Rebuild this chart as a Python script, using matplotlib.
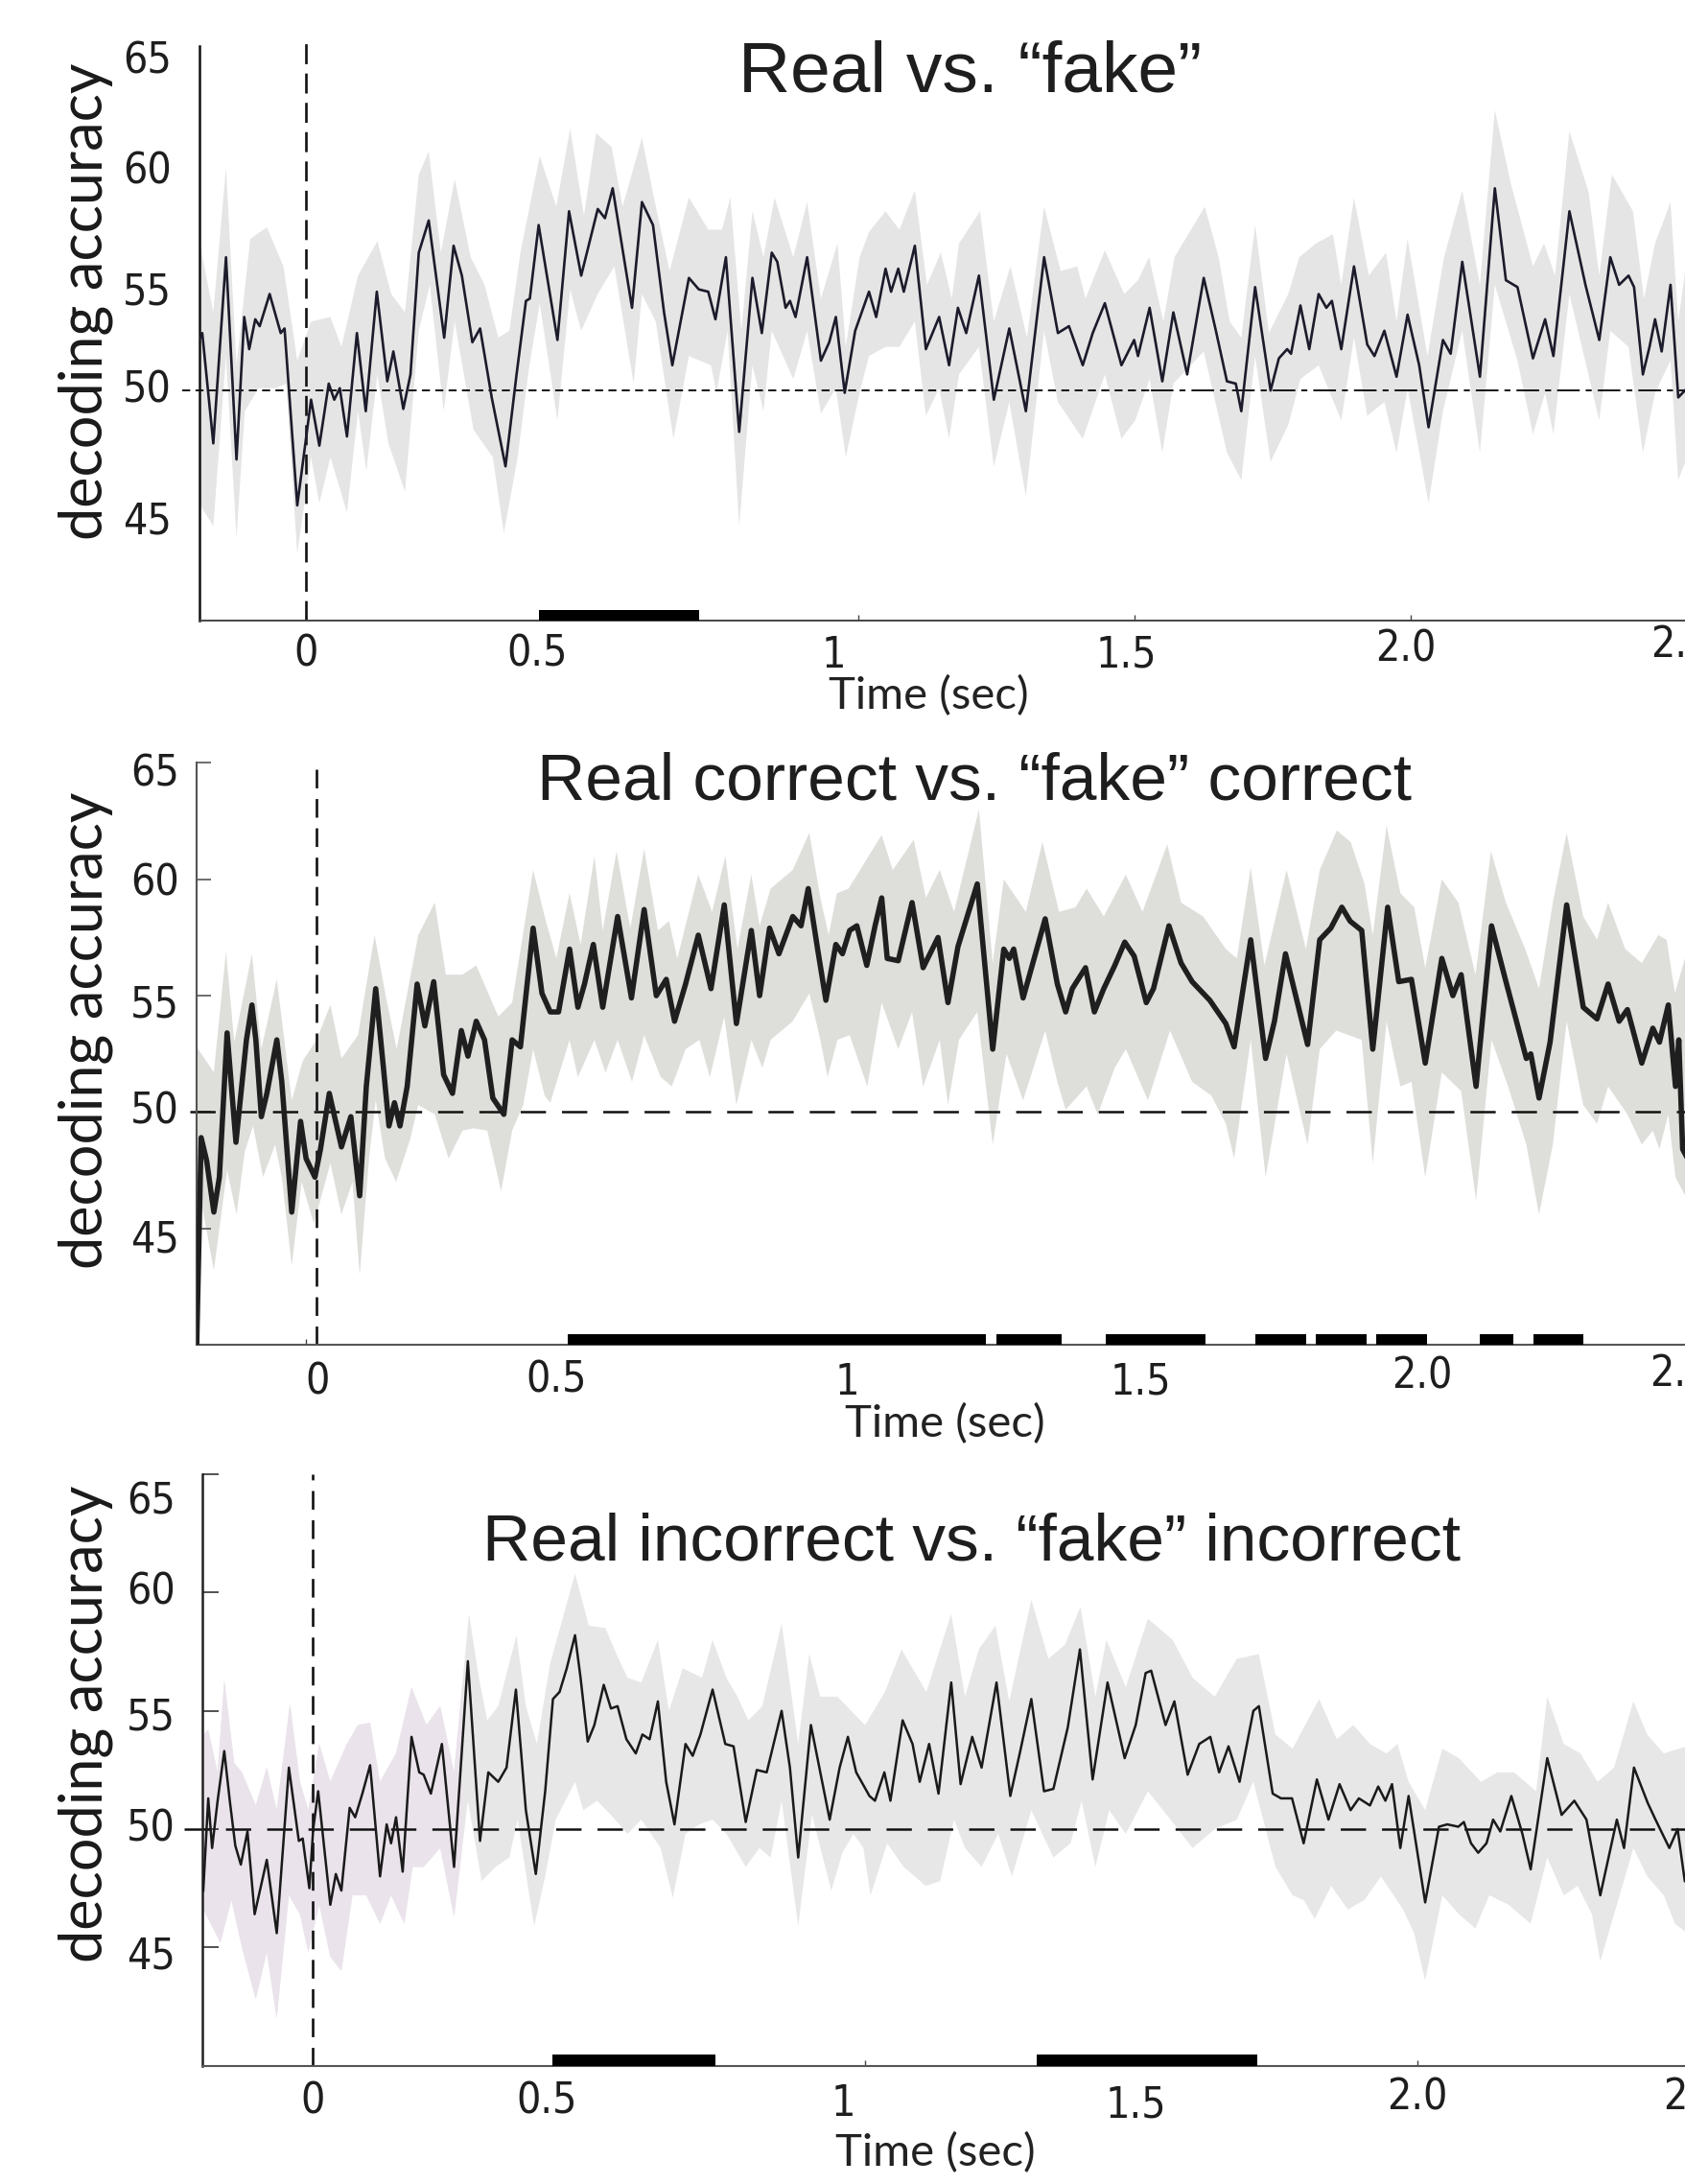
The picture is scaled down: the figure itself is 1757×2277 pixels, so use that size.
import numpy as np
import matplotlib
matplotlib.use("Agg")
import matplotlib.pyplot as plt
from matplotlib.patches import Rectangle

plt.rcParams['lines.scale_dashes'] = False

### data (time in sec, decoding accuracy in %)
# panel 1 : Real vs. "fake"
p1_curve = [(-0.193,52.2),(-0.187,52.5),(-0.167,47.7),(-0.144,55.8),(-0.125,47.0),(-0.111,53.2),(-0.102,51.8),(-0.091,53.1),
            (-0.083,52.8),(-0.065,54.2),(-0.045,52.5),(-0.038,52.7),(-0.015,45.0),(0.010,49.6),(0.025,47.6),(0.042,50.3),
            (0.052,49.6),(0.062,50.1),(0.075,48.0),(0.093,52.5),(0.109,49.1),(0.129,54.3),(0.148,50.4),(0.159,51.7),
            (0.177,49.2),(0.190,50.7),(0.205,56.0),(0.223,57.4),(0.251,52.3),(0.268,56.3),(0.283,55.0),(0.302,52.1),
            (0.316,52.7),(0.337,49.7),(0.362,46.7),(0.382,50.7),(0.399,53.9),(0.406,54.0),(0.422,57.2),(0.456,52.2),
            (0.477,57.8),(0.499,55.0),(0.529,57.9),(0.542,57.5),(0.556,58.8),(0.591,53.6),(0.609,58.2),(0.629,57.2),
            (0.649,53.4),(0.664,51.1),(0.694,54.9),(0.712,54.4),(0.729,54.3),(0.742,53.1),(0.761,55.8),(0.785,48.2),
            (0.809,54.9),(0.826,52.5),(0.844,56.0),(0.854,55.6),(0.869,53.6),(0.877,53.9),(0.887,53.2),(0.908,55.8),
            (0.933,51.3),(0.948,52.1),(0.960,53.2),(0.976,49.9),(0.995,52.6),(1.020,54.3),(1.033,53.2),(1.050,55.3),
            (1.060,54.3),(1.073,55.3),(1.083,54.3),(1.103,56.3),(1.123,51.8),(1.147,53.2),(1.165,51.1),(1.181,53.6),
            (1.196,52.5),(1.219,55.0),(1.246,49.6),(1.274,52.7),(1.304,49.1),(1.337,55.8),(1.362,52.5),(1.382,52.8),
            (1.407,51.1),(1.425,52.5),(1.447,53.8),(1.477,51.1),(1.500,52.2),(1.507,51.5),(1.528,53.6),(1.551,50.4),
            (1.571,53.4),(1.596,50.7),(1.626,54.9),(1.648,52.6),(1.668,50.4),(1.684,50.3),(1.694,49.1),(1.719,54.5),
            (1.747,50.0),(1.762,51.4),(1.777,51.8),(1.784,51.6),(1.801,53.7),(1.817,51.8),(1.834,54.2),(1.848,53.6),
            (1.858,53.9),(1.875,51.8),(1.898,55.4),(1.922,52.0),(1.935,51.5),(1.953,52.6),(1.975,50.6),(1.995,53.3),
            (2.016,51.1),(2.033,48.4),(2.059,52.2),(2.073,51.6),(2.094,55.6),(2.126,50.6),(2.153,58.8),(2.173,54.8),
            (2.194,54.5),(2.222,51.4),(2.244,53.1),(2.259,51.5),(2.288,57.8),(2.317,54.6),(2.342,52.2),(2.362,55.8),
            (2.378,54.6),(2.395,55.0),(2.405,54.5),(2.421,50.7),(2.433,51.9),(2.443,53.1),(2.455,51.7),(2.471,54.6),
            (2.485,49.7),(2.501,50.1)]
p1_hi = [(-0.193,56.6),(-0.167,53.4),(-0.144,59.7),(-0.125,51.1),(-0.100,56.6),(-0.070,57.1),(-0.040,55.4),(-0.015,51.3),
         (0.010,53.0),(0.045,53.2),(0.065,51.9),(0.095,55.0),(0.130,56.5),(0.155,54.2),(0.180,53.4),(0.205,59.4),
         (0.223,60.4),(0.245,56.0),(0.270,59.2),(0.299,55.8),(0.324,54.6),(0.349,52.3),(0.369,52.6),(0.389,56.0),
         (0.424,60.2),(0.454,58.0),(0.479,61.4),(0.504,57.6),(0.526,61.2),(0.554,60.6),(0.574,58.0),(0.609,61.0),
         (0.629,58.6),(0.659,55.2),(0.694,58.4),(0.729,57.0),(0.754,57.0),(0.769,58.4),(0.789,52.6),(0.809,57.8),
         (0.829,55.8),(0.849,58.4),(0.883,55.8),(0.908,58.2),(0.933,54.0),(0.963,56.4),(0.978,51.9),(1.003,55.8),
         (1.020,56.9),(1.050,57.8),(1.075,57.0),(1.103,58.7),(1.125,54.6),(1.150,56.0),(1.170,54.0),(1.183,56.4),
         (1.221,57.8),(1.246,53.0),(1.276,55.4),(1.306,52.3),(1.337,58.0),(1.367,55.2),(1.397,55.4),(1.412,54.0),
         (1.447,56.1),(1.482,54.2),(1.507,54.8),(1.527,55.8),(1.553,53.0),(1.573,55.8),(1.628,58.0),(1.653,55.8),
         (1.673,53.0),(1.694,52.3),(1.719,57.2),(1.744,52.5),(1.779,54.2),(1.799,55.8),(1.829,56.4),(1.860,56.8),
         (1.875,54.6),(1.898,58.4),(1.925,55.0),(1.956,56.0),(1.975,53.0),(1.995,56.6),(2.031,51.5),(2.061,55.8),
         (2.094,58.7),(2.126,54.6),(2.153,62.2),(2.182,59.0),(2.222,55.4),(2.242,56.4),(2.262,55.0),(2.288,61.3),
         (2.323,58.6),(2.342,55.0),(2.365,59.4),(2.403,57.8),(2.423,54.0),(2.443,56.4),(2.471,58.2),(2.485,53.0),
         (2.501,55.8)]
p1_lo = [(-0.193,45.1),(-0.167,44.1),(-0.144,51.5),(-0.125,43.6),(-0.110,49.1),(-0.085,50.1),(-0.055,50.1),(-0.035,50.3),
         (-0.015,42.9),(0.010,47.1),(0.025,45.1),(0.045,47.1),(0.075,44.7),(0.095,49.1),(0.110,46.5),(0.130,50.7),
         (0.150,47.7),(0.180,45.6),(0.205,52.6),(0.225,54.6),(0.250,49.1),(0.270,53.0),(0.304,48.3),(0.339,47.1),
         (0.359,43.8),(0.384,47.1),(0.404,50.9),(0.424,53.8),(0.456,48.7),(0.479,54.4),(0.499,52.6),(0.529,54.2),
         (0.559,55.4),(0.594,50.3),(0.609,54.2),(0.634,53.0),(0.666,47.9),(0.694,51.5),(0.734,51.1),(0.744,49.9),
         (0.764,52.6),(0.785,44.1),(0.809,51.1),(0.829,49.1),(0.844,52.6),(0.883,50.5),(0.908,52.6),(0.933,49.0),
         (0.960,50.1),(0.978,47.1),(1.003,49.9),(1.020,51.5),(1.050,51.9),(1.075,51.9),(1.103,53.0),(1.123,48.9),
         (1.147,50.1),(1.165,47.9),(1.183,50.7),(1.219,51.9),(1.246,46.7),(1.274,49.5),(1.304,45.4),(1.337,52.6),
         (1.362,49.5),(1.407,47.9),(1.447,50.7),(1.477,47.9),(1.502,48.7),(1.528,50.5),(1.551,47.3),(1.571,50.3),
         (1.626,51.7),(1.668,47.3),(1.694,46.1),(1.719,51.5),(1.747,46.9),(1.779,48.5),(1.801,50.5),(1.834,51.1),
         (1.875,48.7),(1.898,52.3),(1.922,48.9),(1.953,49.5),(1.975,47.3),(1.995,50.1),(2.033,45.1),(2.059,49.1),
         (2.094,52.6),(2.126,47.3),(2.153,54.6),(2.194,51.3),(2.222,48.1),(2.244,49.9),(2.259,48.1),(2.288,54.2),
         (2.342,48.7),(2.362,52.6),(2.395,51.9),(2.421,47.3),(2.443,49.9),(2.471,51.3),(2.485,46.1),(2.501,47.1)]
p1_sig = [(0.423, 0.713)]

# panel 2 : Real correct vs. "fake" correct
p2_curve = [(-0.197,40.0),(-0.189,48.9),(-0.179,47.9),(-0.166,45.7),(-0.156,47.2),(-0.142,53.4),(-0.126,48.7),(-0.111,52.2),
            (-0.107,53.1),(-0.097,54.6),(-0.090,53.1),(-0.080,49.8),(-0.070,50.8),(-0.052,53.1),(-0.043,51.3),(-0.025,45.7),
            (-0.009,49.6),(0.001,48.0),(0.017,47.2),(0.027,48.4),(0.043,50.8),(0.065,48.5),(0.082,49.8),(0.098,46.4),
            (0.110,51.1),(0.127,55.3),(0.141,51.9),(0.151,49.4),(0.161,50.4),(0.171,49.4),(0.184,51.1),(0.202,55.5),
            (0.216,53.7),(0.232,55.6),(0.250,51.6),(0.266,50.8),(0.282,53.5),(0.294,52.4),(0.309,53.9),(0.324,53.1),
            (0.339,50.6),(0.359,49.9),(0.374,53.1),(0.389,52.8),(0.412,57.9),(0.428,55.1),(0.443,54.3),(0.458,54.3),
            (0.478,57.0),(0.493,54.5),(0.505,55.5),(0.521,57.2),(0.538,54.5),(0.565,58.4),(0.590,54.9),(0.613,58.7),
            (0.635,55.0),(0.653,55.7),(0.668,53.9),(0.688,55.5),(0.711,57.6),(0.734,55.3),(0.758,58.9),(0.780,53.8),
            (0.807,57.8),(0.822,55.0),(0.840,57.9),(0.857,56.8),(0.882,58.4),(0.897,58.0),(0.910,59.6),(0.927,57.0),
            (0.942,54.8),(0.960,57.2),(0.972,56.8),(0.985,57.8),(0.998,58.0),(1.016,56.3),(1.031,58.0),(1.043,59.2),
            (1.053,56.6),(1.073,56.5),(1.098,59.0),(1.118,56.2),(1.145,57.5),(1.163,54.7),(1.181,57.1),(1.216,59.8),
            (1.244,52.7),(1.264,57.0),(1.274,56.6),(1.282,57.0),(1.299,54.9),(1.339,58.3),(1.361,55.5),(1.376,54.3),
            (1.388,55.3),(1.412,56.2),(1.428,54.3),(1.445,55.3),(1.465,56.3),(1.483,57.3),(1.500,56.7),(1.522,54.7),
            (1.535,55.3),(1.563,58.0),(1.585,56.4),(1.605,55.6),(1.637,54.8),(1.666,53.8),(1.681,52.8),(1.711,57.4),
            (1.738,52.3),(1.754,53.9),(1.774,56.8),(1.814,52.9),(1.836,57.4),(1.856,57.9),(1.876,58.8),(1.891,58.2),
            (1.912,57.8),(1.932,52.7),(1.959,58.8),(1.979,55.6),(2.002,55.7),(2.027,52.1),(2.057,56.6),(2.077,55.0),
            (2.092,55.9),(2.119,51.1),(2.147,58.0),(2.172,55.7),(2.210,52.3),(2.218,52.5),(2.233,50.6),(2.253,53.0),
            (2.283,58.9),(2.313,54.5),(2.338,54.0),(2.358,55.5),(2.378,53.9),(2.393,54.4),(2.419,52.1),(2.439,53.6),
            (2.451,53.0),(2.467,54.6),(2.480,51.1),(2.486,53.1),(2.493,48.4),(2.502,48.0)]
p2_hi = [(-0.197,52.8),(-0.166,51.7),(-0.144,56.9),(-0.129,53.0),(-0.097,56.8),(-0.080,52.7),(-0.052,55.7),(-0.025,50.5),
         (-0.005,52.2),(0.020,53.1),(0.045,54.6),(0.065,52.3),(0.095,53.3),(0.125,57.6),(0.145,55.0),(0.165,52.7),
         (0.204,57.6),(0.234,59.0),(0.254,55.9),(0.284,55.9),(0.309,56.3),(0.349,54.1),(0.374,54.7),(0.412,60.4),
         (0.434,58.3),(0.454,56.6),(0.478,59.4),(0.498,57.2),(0.523,61.0),(0.538,57.8),(0.563,61.2),(0.588,57.9),
         (0.613,61.3),(0.638,57.8),(0.658,58.2),(0.673,56.6),(0.711,60.2),(0.736,58.6),(0.760,61.0),(0.782,57.0),
         (0.807,60.2),(0.822,58.0),(0.842,59.6),(0.882,60.4),(0.912,62.0),(0.932,59.2),(0.947,57.6),(0.962,59.4),
         (0.983,59.6),(1.043,61.9),(1.063,60.4),(1.101,61.7),(1.123,59.2),(1.148,60.4),(1.174,58.6),(1.219,63.0),
         (1.244,56.4),(1.264,60.0),(1.304,58.6),(1.334,61.6),(1.364,58.6),(1.394,58.8),(1.414,59.6),(1.445,58.4),
         (1.485,60.2),(1.515,58.6),(1.560,61.5),(1.585,59.0),(1.625,58.4),(1.666,57.0),(1.686,56.6),(1.711,60.5),
         (1.736,56.3),(1.776,60.4),(1.811,57.0),(1.836,60.4),(1.867,62.1),(1.892,61.6),(1.917,59.8),(1.932,57.6),
         (1.957,62.3),(1.982,59.4),(2.007,58.8),(2.027,56.2),(2.057,60.0),(2.087,59.0),(2.118,55.9),(2.146,61.2),
         (2.173,59.0),(2.208,57.0),(2.233,55.3),(2.258,59.0),(2.283,62.0),(2.313,58.4),(2.338,57.4),(2.358,59.0),
         (2.389,57.0),(2.419,56.4),(2.449,57.6),(2.464,57.4),(2.479,55.1),(2.502,57.0)]
p2_lo = [(-0.197,47.2),(-0.166,43.2),(-0.142,47.5),(-0.125,45.6),(-0.110,48.3),(-0.095,49.4),(-0.077,47.2),(-0.055,48.6),
         (-0.043,47.2),(-0.025,43.4),(-0.007,47.0),(0.015,45.2),(0.045,47.8),(0.065,45.6),(0.085,47.0),(0.098,43.0),
         (0.115,48.0),(0.127,50.5),(0.144,48.0),(0.164,47.0),(0.189,48.8),(0.204,50.3),(0.234,49.9),(0.259,48.0),
         (0.284,49.2),(0.304,49.3),(0.329,49.2),(0.354,46.6),(0.374,49.2),(0.394,50.3),(0.412,52.7),(0.433,50.7),
         (0.443,50.4),(0.478,53.1),(0.493,51.5),(0.523,53.1),(0.543,51.7),(0.565,53.1),(0.591,51.3),(0.613,53.3),
         (0.643,51.5),(0.663,51.1),(0.688,52.7),(0.713,53.1),(0.732,51.5),(0.758,54.1),(0.780,50.3),(0.807,53.1),
         (0.827,51.9),(0.842,53.1),(0.882,53.9),(0.912,55.1),(0.932,53.1),(0.945,51.5),(0.963,53.1),(0.985,53.3),
         (1.017,51.1),(1.043,54.7),(1.073,52.7),(1.098,54.3),(1.118,51.1),(1.148,53.1),(1.163,50.3),(1.183,53.1),
         (1.216,54.3),(1.244,48.6),(1.269,52.5),(1.299,50.5),(1.339,53.5),(1.361,51.3),(1.376,50.1),(1.414,51.1),
         (1.434,49.9),(1.465,51.9),(1.485,52.7),(1.525,50.5),(1.565,53.5),(1.605,51.3),(1.640,50.7),(1.666,49.5),
         (1.681,48.0),(1.711,53.1),(1.738,47.2),(1.776,52.5),(1.814,48.6),(1.836,52.7),(1.866,53.5),(1.912,53.1),
         (1.932,47.8),(1.957,53.9),(1.982,51.1),(2.002,51.3),(2.027,47.2),(2.057,51.7),(2.092,50.9),(2.119,46.2),
         (2.147,53.1),(2.177,51.1),(2.210,48.6),(2.233,45.6),(2.258,48.6),(2.283,53.9),(2.313,50.3),(2.338,49.5),
         (2.358,51.1),(2.393,49.9),(2.419,48.6),(2.439,49.2),(2.451,48.4),(2.467,49.9),(2.480,47.2),(2.502,46.2)]
p2_sig = [(0.474, 1.232), (1.250, 1.368), (1.449, 1.630), (1.720, 1.812),
          (1.829, 1.920), (1.939, 2.031), (2.126, 2.187), (2.223, 2.314)]

# panel 3 : Real incorrect vs. "fake" incorrect
p3_curve = [(-0.198,47.4),(-0.189,51.3),(-0.182,49.2),(-0.172,51.2),(-0.160,53.3),(-0.150,51.2),(-0.140,49.3),(-0.130,48.5),
            (-0.118,49.9),(-0.105,46.4),(-0.083,48.7),(-0.065,45.6),(-0.043,52.6),(-0.025,49.5),(-0.018,49.6),(-0.006,47.5),
            (0.001,50.0),(0.010,51.6),(0.022,49.0),(0.032,46.8),(0.042,48.1),(0.052,47.4),(0.067,50.9),(0.077,50.5),
            (0.090,51.5),(0.104,52.7),(0.122,48.0),(0.134,50.2),(0.142,49.4),(0.151,50.5),(0.163,48.2),(0.179,53.9),
            (0.193,52.4),(0.201,52.3),(0.214,51.5),(0.234,53.6),(0.256,48.4),(0.281,57.1),(0.303,49.5),(0.318,52.4),
            (0.336,52.0),(0.351,52.6),(0.368,55.9),(0.386,50.8),(0.404,48.1),(0.421,51.6),(0.435,55.5),(0.447,55.8),
            (0.460,56.8),(0.475,58.2),(0.485,56.4),(0.498,53.7),(0.510,54.4),(0.527,56.1),(0.540,55.1),(0.552,55.2),
            (0.568,53.8),(0.585,53.2),(0.597,54.0),(0.610,53.8),(0.625,55.4),(0.640,52.0),(0.655,50.2),(0.675,53.6),
            (0.688,53.1),(0.702,54.0),(0.724,55.9),(0.747,53.6),(0.762,53.5),(0.784,50.3),(0.804,52.5),(0.822,52.4),
            (0.849,55.0),(0.864,52.6),(0.879,48.8),(0.902,54.4),(0.919,52.4),(0.936,50.4),(0.954,52.6),(0.969,53.9),
            (0.984,52.4),(1.008,51.4),(1.018,51.2),(1.035,52.4),(1.046,51.2),(1.068,54.6),(1.086,53.6),(1.099,52.0),
            (1.116,53.6),(1.133,51.5),(1.156,56.2),(1.173,51.9),(1.194,53.9),(1.211,52.6),(1.238,56.2),(1.263,51.4),
            (1.281,53.3),(1.301,55.5),(1.324,51.6),(1.341,51.7),(1.367,54.3),(1.389,57.6),(1.412,52.1),(1.439,56.2),
            (1.470,53.0),(1.490,54.4),(1.508,56.6),(1.518,56.7),(1.544,54.4),(1.560,55.4),(1.584,52.3),(1.605,53.6),
            (1.625,53.9),(1.641,52.4),(1.658,53.5),(1.678,52.0),(1.703,55.0),(1.713,55.2),(1.738,51.5),(1.753,51.3),
            (1.773,51.3),(1.794,49.4),(1.818,52.1),(1.839,50.4),(1.859,51.9),(1.879,50.8),(1.894,51.3),(1.914,51.0),
            (1.929,51.8),(1.942,51.2),(1.954,51.9),(1.969,49.2),(1.984,51.4),(2.014,46.9),(2.039,50.1),(2.054,50.2),
            (2.074,50.1),(2.084,50.3),(2.097,49.4),(2.110,49.0),(2.125,49.4),(2.137,50.4),(2.150,49.9),(2.170,51.4),
            (2.190,49.8),(2.205,48.3),(2.235,53.0),(2.261,50.6),(2.284,51.2),(2.306,50.4),(2.331,47.2),(2.361,50.4),
            (2.374,49.2),(2.392,52.6),(2.417,51.1),(2.431,50.4),(2.456,49.2),(2.471,50.0),(2.484,47.8),(2.500,47.5)]
p3_hi = [(-0.198,54.0),(-0.189,54.2),(-0.172,52.4),(-0.160,56.3),(-0.142,52.8),(-0.128,52.4),(-0.103,51.0),(-0.083,52.6),
         (-0.065,50.8),(-0.041,55.3),(-0.023,52.0),(-0.008,50.8),(0.012,53.6),(0.032,52.0),(0.062,53.6),(0.082,54.4),
         (0.104,54.5),(0.122,52.0),(0.151,53.2),(0.179,56.0),(0.206,54.4),(0.231,55.2),(0.256,52.4),(0.283,59.1),
         (0.301,56.4),(0.316,54.6),(0.336,55.2),(0.369,58.2),(0.386,55.2),(0.406,53.6),(0.430,57.0),(0.475,60.8),
         (0.500,58.6),(0.530,58.5),(0.550,57.4),(0.570,56.4),(0.595,56.2),(0.625,58.0),(0.645,55.0),(0.670,56.8),
         (0.705,56.4),(0.724,58.0),(0.749,56.4),(0.769,55.6),(0.789,54.6),(0.814,55.2),(0.849,58.7),(0.879,53.6),
         (0.899,57.4),(0.919,55.6),(0.950,55.6),(1.000,54.4),(1.036,55.8),(1.066,57.6),(1.111,55.8),(1.156,59.1),
         (1.181,55.6),(1.206,57.6),(1.236,58.6),(1.261,55.4),(1.301,59.7),(1.332,57.2),(1.362,57.8),(1.390,59.4),
         (1.417,55.6),(1.437,58.0),(1.472,56.0),(1.512,58.9),(1.557,58.0),(1.593,56.4),(1.633,55.6),(1.673,57.2),
         (1.713,57.4),(1.743,54.0),(1.774,53.4),(1.822,55.5),(1.854,53.8),(1.884,54.4),(1.914,53.6),(1.944,53.2),
         (1.964,53.6),(1.984,52.0),(2.014,50.8),(2.045,53.4),(2.075,53.0),(2.115,52.0),(2.145,52.4),(2.175,52.4),
         (2.195,52.0),(2.215,51.6),(2.235,55.6),(2.265,53.6),(2.295,53.2),(2.326,52.0),(2.356,52.6),(2.391,55.4),
         (2.416,54.0),(2.446,53.2),(2.500,53.6)]
p3_lo = [(-0.198,46.6),(-0.167,45.2),(-0.147,47.0),(-0.128,45.0),(-0.103,42.8),(-0.083,44.8),(-0.065,42.0),(-0.043,47.2),
         (-0.023,46.4),(-0.008,44.8),(0.012,46.8),(0.032,44.6),(0.052,44.0),(0.072,47.2),(0.097,47.2),(0.122,46.0),
         (0.142,47.2),(0.166,46.0),(0.181,48.4),(0.201,48.4),(0.231,49.2),(0.256,46.3),(0.281,51.2),(0.306,47.8),
         (0.331,48.4),(0.356,48.8),(0.371,50.4),(0.401,45.9),(0.421,48.0),(0.440,50.4),(0.475,52.0),(0.490,50.8),
         (0.515,51.2),(0.540,50.6),(0.570,49.8),(0.595,50.4),(0.630,49.2),(0.652,47.1),(0.675,49.8),(0.700,50.2),
         (0.724,50.4),(0.749,49.8),(0.784,48.4),(0.809,49.2),(0.829,48.8),(0.849,51.2),(0.879,45.9),(0.904,50.6),
         (0.939,47.4),(0.959,49.0),(0.979,49.8),(0.997,49.2),(1.010,47.2),(1.040,49.4),(1.070,48.4),(1.110,47.6),
         (1.136,47.8),(1.161,50.4),(1.181,49.2),(1.211,48.4),(1.241,49.8),(1.266,48.0),(1.301,50.8),(1.341,48.8),
         (1.372,49.4),(1.392,51.2),(1.417,48.4),(1.442,50.8),(1.472,49.8),(1.512,51.6),(1.553,50.4),(1.593,49.2),
         (1.633,50.0),(1.673,50.4),(1.703,52.0),(1.743,48.4),(1.774,47.2),(1.794,47.0),(1.814,46.2),(1.844,47.6),
         (1.874,46.6),(1.904,47.0),(1.934,48.0),(1.974,46.6),(1.994,45.6),(2.014,43.6),(2.045,47.2),(2.075,46.4),
         (2.105,45.8),(2.130,47.2),(2.165,46.8),(2.205,46.0),(2.235,48.8),(2.265,47.2),(2.290,47.6),(2.316,46.4),
         (2.331,44.4),(2.361,46.8),(2.391,49.2),(2.416,48.0),(2.446,47.2),(2.466,46.0),(2.500,45.4)]
p3_sig = [(0.434, 0.729), (1.311, 1.710)]

titles = ['Real vs. \u201cfake\u201d',
          'Real correct vs. \u201cfake\u201d correct',
          'Real incorrect vs. \u201cfake\u201d incorrect']
xtick_text = ['0', '0.5', '1', '1.5', '2.0', '2.5']
ytick_vals = [65, 60, 55, 50, 45]

### layout (pixels of the 1757x2277 picture)
W, H = 1757, 2277
PX_S = 576.0

num_font = dict(family=['DejaVu Sans'], fontstretch='condensed', fontsize=32, color='#1e1e1e')
lab_font = ['Lato', 'DejaVu Sans']
ttl_font = ['Liberation Sans', 'DejaVu Sans']

fig = plt.figure(figsize=(W / 100, H / 100), dpi=100)


def make_axes(left, top, bottom, t0, ylab_dx, ylab_drop):
    tmin = (left - t0) / PX_S
    tmax = 2.56
    width = (tmax - tmin) * PX_S
    ax = fig.add_axes([left / W, (H - bottom) / H, width / W, (bottom - top) / H])
    ax.set_xlim(tmin, tmax)
    ax.set_ylim(40, 65)
    ax.spines['top'].set_visible(False)
    ax.spines['right'].set_visible(False)
    ax.set_xticks([0, 0.5, 1, 1.5, 2, 2.5])
    ax.tick_params(axis='x', direction='in', length=4, width=1, color='#444', labelbottom=False)
    ax.set_yticks([40] + ytick_vals)
    ax.tick_params(axis='y', labelleft=False)
    # y labels are placed one by one, as in the original they sit a little off the ticks
    for v, drop in zip(ytick_vals, ylab_drop):
        ax.annotate(str(v), xy=(0, v), xycoords=('axes fraction', 'data'),
                    xytext=(ylab_dx, -drop), textcoords='offset pixels',
                    ha='center', va='center', annotation_clip=False, **num_font)
    return ax


def band(ax, hi, lo, color, clip=None):
    hi = np.array(hi)
    lo = np.array(lo)
    xs = np.r_[hi[:, 0], lo[::-1, 0]]
    ys = np.r_[hi[:, 1], lo[::-1, 1]]
    patch = ax.fill(xs, ys, color=color, lw=0, zorder=1)[0]
    if clip is not None:
        patch.set_clip_path(clip)
    return patch


def decorate(ax, title, title_xy, title_size, time_xy, ylab_xy, xt_pos, xt_drop, sig):
    for a, b in sig:
        ax.broken_barh([(a, b - a)], (40, 0.45), facecolors='black', zorder=4)
    for txt, pos, drop in zip(xtick_text, xt_pos, xt_drop):
        ax.annotate(txt, xy=(pos, 0), xycoords=('data', 'axes fraction'),
                    xytext=(0, -drop), textcoords='offset pixels',
                    ha='center', va='center', annotation_clip=False, **num_font)
    fig.text(title_xy[0] / W, 1 - title_xy[1] / H, title, ha='center', va='baseline',
             family=ttl_font, fontsize=title_size, color='#1e1e1e')
    fig.text(time_xy[0] / W, 1 - time_xy[1] / H, 'Time (sec)', ha='center', va='center',
             family=lab_font, fontsize=34, color='#222222')
    fig.text(ylab_xy[0] / W, 1 - ylab_xy[1] / H, 'decoding accuracy', ha='center', va='center',
             rotation=90, family=lab_font, fontsize=44, color='#1a1a1a')


# ---------------- panel 1
ax1 = make_axes(207.8, 47.8, 646.7, 318.6, -54, [16, 11, 18, 0, 17])
ax1.tick_params(axis='y', length=0)
ax1.spines['left'].set_linewidth(1.8)
ax1.spines['left'].set_color('#111111')
ax1.spines['bottom'].set_linewidth(1.4)
ax1.spines['bottom'].set_color('#444444')
band(ax1, p1_hi, p1_lo, '#e5e5e5')
c = np.array(p1_curve)
ax1.plot(c[:, 0], c[:, 1], color='#1b1b2b', lw=1.9, zorder=3, solid_joinstyle='round')
t_lo = ax1.get_xlim()[0]
ax1.plot([t_lo - 0.031, 1.53], [50, 50], color='#111111', lw=1.4, dashes=(6, 4), zorder=2, clip_on=False)
ax1.plot([1.53, 2.56], [50, 50], color='#111111', lw=1.4, dashes=(17, 4.5, 4.5, 4.5), zorder=2)
ax1.plot([0, 0], [40, 65.2], color='#111111', lw=1.9, dashes=(15, 7), zorder=2, clip_on=False)
decorate(ax1, titles[0], (1012, 95.7), 54, (968, 726), (89, 314),
         [0.0, 0.419, 0.956, 1.485, 1.992, 2.49], [35, 35, 37, 36, 30, 26], p1_sig)

# ---------------- panel 2
ax2 = make_axes(205.3, 795.4, 1402.0, 318.6, -44, [12, 4, 10, 0, 12])
ax2.tick_params(axis='y', direction='in', length=11, width=1.2, color='#555555')
for s in ['left', 'bottom']:
    ax2.spines[s].set_linewidth(1.5)
    ax2.spines[s].set_color('#555555')
band(ax2, p2_hi, p2_lo, '#dedfdb')
c = np.array(p2_curve)
ax2.plot(c[:, 0], c[:, 1], color='#1f1f1f', lw=4.0, zorder=3, solid_joinstyle='round')
t_lo = ax2.get_xlim()[0]
ax2.plot([t_lo - 0.012, 2.56], [50, 50], color='#111111', lw=1.8, dashes=(19, 12), zorder=2, clip_on=False)
ax2.plot([0.02, 0.02], [40, 65], color='#111111', lw=1.9, dashes=(14, 8), zorder=2)
decorate(ax2, titles[1], (1016, 833.7), 50, (985, 1485), (89, 1074),
         [0.022, 0.454, 0.981, 1.512, 2.021, 2.489], [39, 37, 40, 39, 33, 31], p2_sig)

# ---------------- panel 3
ax3 = make_axes(211.4, 1537.2, 2153.5, 326.0, -54, [29, 0, 7, 0, 10])
ax3.tick_params(axis='y', direction='in', length=12, width=1.2, color='#333333')
ax3.spines['left'].set_linewidth(1.8)
ax3.spines['left'].set_color('#222222')
ax3.spines['bottom'].set_linewidth(1.5)
ax3.spines['bottom'].set_color('#555555')
band(ax3, p3_hi, p3_lo, '#e7e7e7')
tint = Rectangle((-0.3, 30), 0.57, 40, transform=ax3.transData)
band(ax3, p3_hi, p3_lo, '#ebe3ec', clip=tint)
c = np.array(p3_curve)
ax3.plot(c[:, 0], c[:, 1], color='#1a1a1a', lw=1.8, zorder=3, solid_joinstyle='round')
t_lo = ax3.get_xlim()[0]
ax3.plot([t_lo - 0.033, 2.56], [50, 50], color='#111111', lw=1.8, dashes=(19, 12), zorder=2, clip_on=False)
ax3.plot([0, 0], [40, 65], color='#111111', lw=1.9, dashes=(14, 8), zorder=2)
decorate(ax3, titles[2], (1013, 1626.4), 50, (975, 2245), (89, 1797),
         [0.0, 0.424, 0.961, 1.490, 1.999, 2.50], [38, 37, 40, 42, 33, 33], p3_sig)

fig.savefig('out.png', dpi=100)
